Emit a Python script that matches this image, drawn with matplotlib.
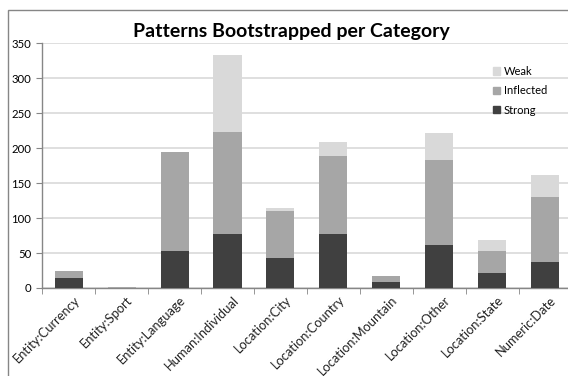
import matplotlib
matplotlib.use("Agg")
import matplotlib.pyplot as plt
from matplotlib.patches import Rectangle, Patch
import numpy as np

plt.rcParams['font.family'] = ['Lato', 'DejaVu Sans']

categories = ["Entity:Currency", "Entity:Sport", "Entity:Language", "Human:Individual",
              "Location:City", "Location:Country", "Location:Mountain", "Location:Other",
              "Location:State", "Numeric:Date"]
strong = [14, 0, 53, 77, 43, 77, 9, 62, 22, 37]
inflected = [11, 1, 142, 146, 67, 112, 8, 121, 31, 93]
weak = [0, 0, 0, 110, 5, 20, 0, 39, 16, 31]
yticks = [0, 50, 100, 150, 200, 250, 300, 350]

c_strong = "#404040"
c_infl = "#A6A6A6"
c_weak = "#D9D9D9"

W, H = 568, 376
fig = plt.figure(figsize=(W/100, H/100), dpi=100)
ax = fig.add_axes([42.3/W, (H-288)/H, (571.5-42.3)/W, (288-43.3)/H])

x = np.arange(len(categories))
s = np.array(strong); i = np.array(inflected); w = np.array(weak)
w_bar = 0.53
ax.bar(x, s, w_bar, color=c_strong, zorder=3)
ax.bar(x, i, w_bar, bottom=s, color=c_infl, zorder=3)
ax.bar(x, w, w_bar, bottom=s + i, color=c_weak, zorder=3)

ax.set_xlim(-0.5, len(categories) - 0.5)
ax.set_ylim(0, 350)
ax.set_yticks(yticks)
ax.set_yticklabels([str(v) for v in yticks], fontsize=8.2)
ax.yaxis.grid(True, color="#D9D9D9", linewidth=1.2, zorder=0)
ax.set_axisbelow(True)

ax.set_xticks(x)
ax.tick_params(axis='x', which='major', length=0, pad=0)
ax.set_xticklabels([])
# category labels placed as rotated text anchored under each category
for xi, name in zip(x, categories):
    ax.annotate(name, xy=(xi, 0), xycoords=('data', 'axes fraction'),
                xytext=(9, -10), textcoords='offset pixels',
                rotation=45, rotation_mode='anchor', ha='right', va='center',
                fontsize=9.3, color='#222222', annotation_clip=False)
ax.set_xticks(np.arange(-0.5, len(categories), 1.0), minor=True)
ax.tick_params(axis='x', which='minor', length=4, color="#868686", direction='out')
ax.tick_params(axis='y', length=4, color="#868686", pad=4)

for sp in ['top', 'right']:
    ax.spines[sp].set_visible(False)
for sp in ['left', 'bottom']:
    ax.spines[sp].set_color("#868686")
    ax.spines[sp].set_linewidth(1.0)

fig.text(291.5/W, 1 - 37/H, "Patterns Bootstrapped per Category", ha='center', va='baseline',
         fontsize=14, fontweight='bold')

handles = [Patch(color=c_weak, label="Weak"), Patch(color=c_infl, label="Inflected"),
           Patch(color=c_strong, label="Strong")]
fig.legend(handles=handles, loc='upper left', bbox_to_anchor=(484/W, 1 - 57/H),
           frameon=False, fontsize=8, handlelength=0.6, handleheight=0.6,
           handletextpad=0.4, labelspacing=0.75, borderpad=0.3)

fig.patches.append(Rectangle((8/W, -0.1), 1.2, 1 - 10/H + 0.1, transform=fig.transFigure,
                             fill=False, edgecolor="#868686", linewidth=1.0))

fig.savefig("out.png", dpi=100)
